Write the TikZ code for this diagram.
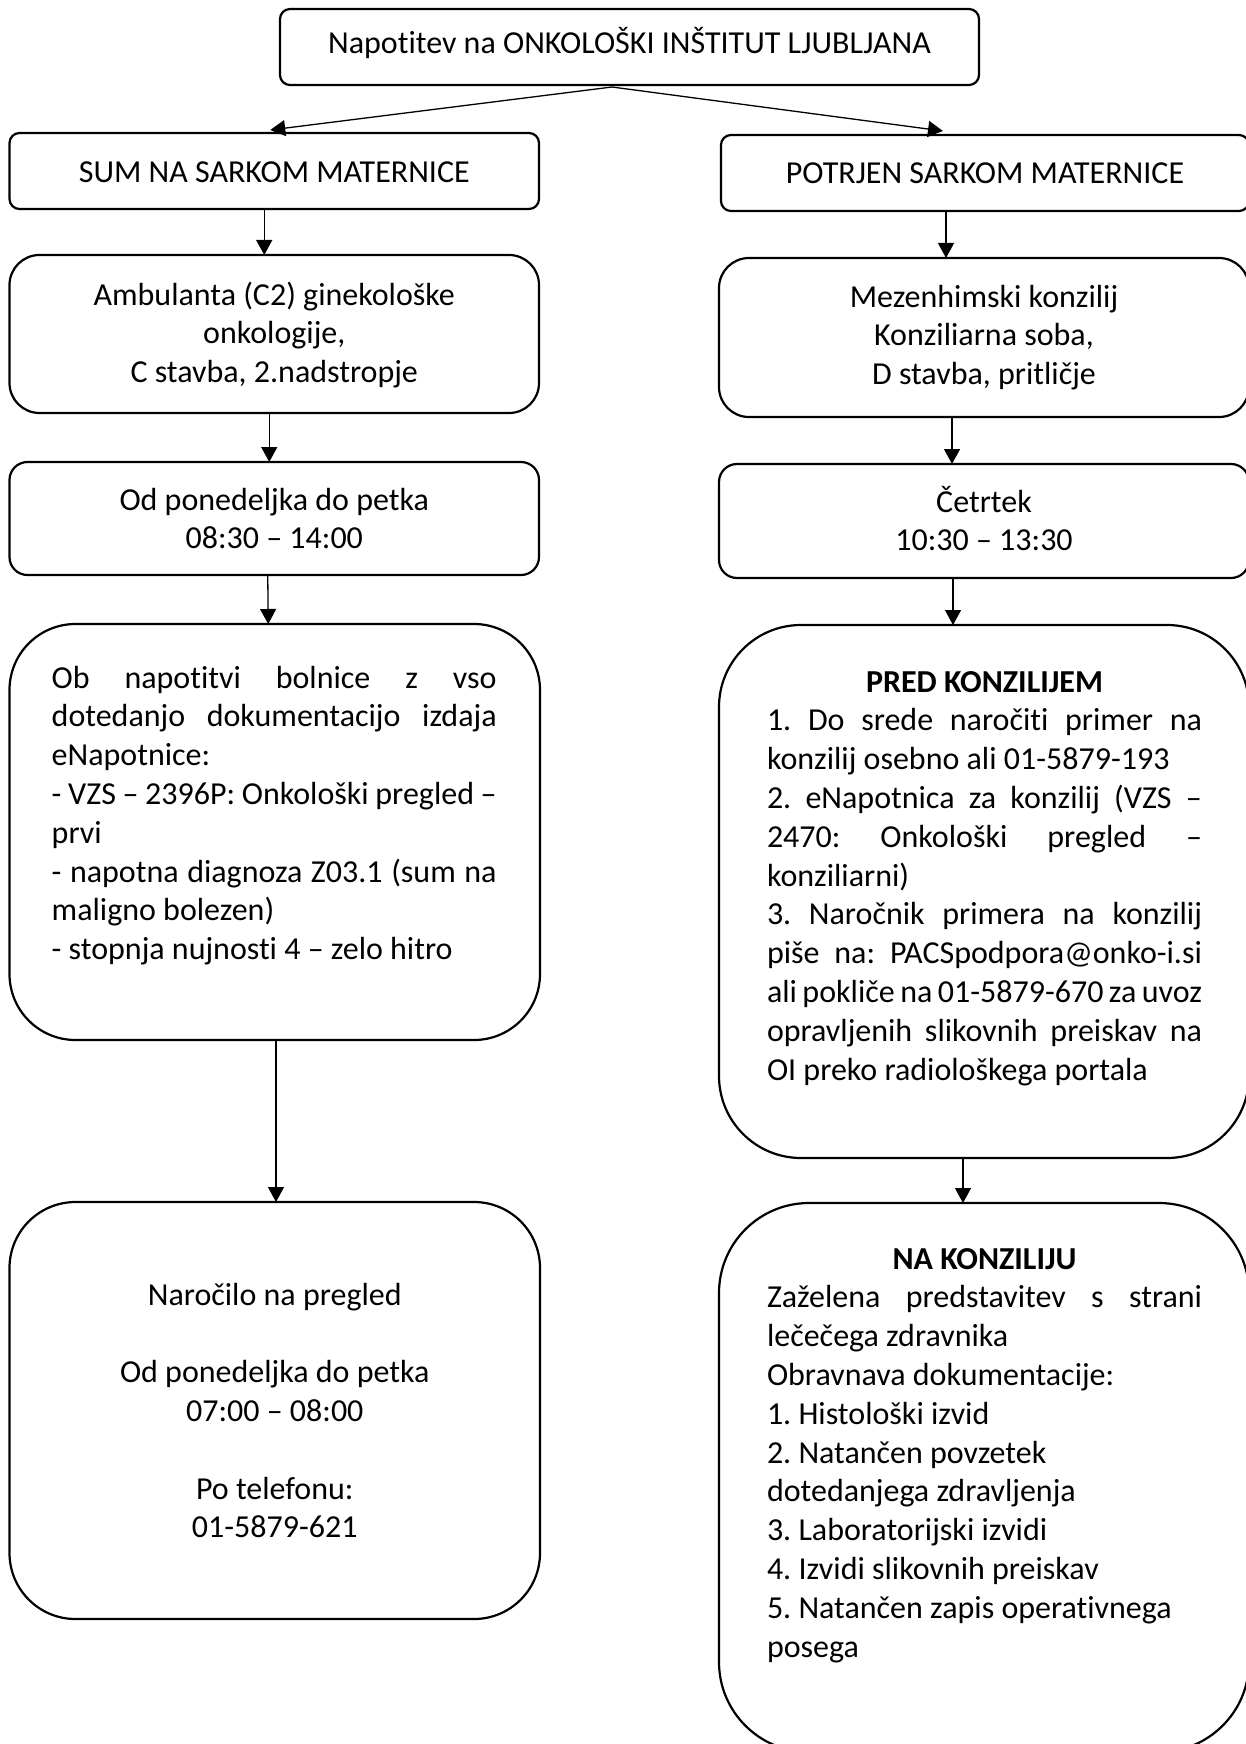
\documentclass[tikz,border=0pt]{standalone}
\usepackage{fontspec}
\setmainfont{Carlito}[Ligatures={NoCommon}]
\usetikzlibrary{arrows.meta}
\newcommand{\jline}[1]{\makebox[\linewidth][s]{\spaceskip=0.12em plus 1fil\relax #1}}
\begin{document}
\frenchspacing
\begin{tikzpicture}[x=1pt,y=-1pt,
  box/.style={draw, line width=2.2pt, inner sep=0pt, outer sep=0pt},
  arr/.style={line width=1.3pt, -{Triangle[length=15pt,width=16pt]}},
  txt/.style={inner sep=0pt, outer sep=0pt, font=\fontsize{32}{38.8}\selectfont\frenchspacing},
]
\useasboundingbox (0,0) rectangle (1246,1744);
\clip (0,0) rectangle (1246,1744);
% boxes
\node[box, rounded corners=10pt, minimum width=699pt, minimum height=76pt] (top) at (629.5,47) {};
\node[box, rounded corners=10pt, minimum width=529.5pt, minimum height=76pt] (sum) at (274.25,171) {};
\node[box, rounded corners=10pt, minimum width=528pt, minimum height=76pt] (pot) at (985,173) {};
\node[box, rounded corners=30pt, minimum width=529.5pt, minimum height=158pt] (amb) at (274.25,334) {};
\node[box, rounded corners=30pt, minimum width=530pt, minimum height=159pt] (mez) at (984,337.5) {};
\node[box, rounded corners=18pt, minimum width=529.5pt, minimum height=113pt] (od) at (274.25,518.5) {};
\node[box, rounded corners=18pt, minimum width=530pt, minimum height=114pt] (cet) at (984,521) {};
\node[box, rounded corners=66pt, minimum width=530.5pt, minimum height=416pt] (ob) at (274.75,832) {};
\node[box, rounded corners=82pt, minimum width=530pt, minimum height=533pt] (pred) at (984,891.5) {};
\node[box, rounded corners=66pt, minimum width=530.5pt, minimum height=417pt] (nar) at (274.75,1410.5) {};
\node[box, rounded corners=90pt, minimum width=530pt, minimum height=549pt] (na) at (984,1477.5) {};
% texts
\node[txt, anchor=base] (topt) at (629.5,54) {Napotitev na ONKOLOŠKI INŠTITUT LJUBLJANA};
\node[txt, anchor=base] (sumt) at (274.25,183) {SUM NA SARKOM MATERNICE};
\node[txt, anchor=base] (pott) at (985,184) {POTRJEN SARKOM MATERNICE};
\node[txt, anchor=base] (ambt) at (274.25,305) {\parbox[t]{520pt}{\centering Ambulanta (C2) ginekološke\\onkologije,\\C stavba, 2.nadstropje}};
\node[txt, anchor=base] (mezt) at (984,307) {\parbox[t]{520pt}{\centering Mezenhimski konzilij\\Konziliarna soba,\\D stavba, pritličje}};
\node[txt, anchor=base] (odt) at (274.25,510) {\parbox[t]{520pt}{\centering Od ponedeljka do petka\\08:30 – 14:00}};
\node[txt, anchor=base] (cett) at (984,512) {\parbox[t]{520pt}{\centering Četrtek\\10:30 – 13:30}};
\node[txt, anchor=base west] (obt) at (51.7,688) {\parbox[t]{445pt}{%
\jline{Ob napotitvi bolnice z vso}\\
\jline{dotedanjo dokumentacijo izdaja}\\
eNapotnice:\\
\jline{- VZS – 2396P: Onkološki pregled –}\\
prvi\\
\jline{- napotna diagnoza Z03.1 (sum na}\\
maligno bolezen)\\
- stopnja nujnosti 4 – zelo hitro}};
\node[txt, anchor=base west] (predt) at (767,692) {\parbox[t]{435pt}{%
{\centering\bfseries PRED KONZILIJEM\par}
\jline{1. Do srede naročiti primer na}\\
konzilij osebno ali 01-5879-193\\
\jline{2. eNapotnica za konzilij (VZS –}\\
\jline{2470: Onkološki pregled –}\\
konziliarni)\\
\jline{3. Naročnik primera na konzilij}\\
\jline{piše na: PACSpodpora@onko-i.si}\\
\jline{ali pokliče na 01-5879-670 za uvoz}\\
\jline{opravljenih slikovnih preiskav na}\\
OI preko radiološkega portala}};
\node[txt, anchor=base] (nart) at (274.75,1305) {\parbox[t]{520pt}{\centering Naročilo na pregled\\[38.8pt]Od ponedeljka do petka\\07:00 – 08:00\\[38.8pt]Po telefonu:\\01-5879-621}};
\node[txt, anchor=base west] (nat) at (767,1269) {\parbox[t]{435pt}{%
{\centering\bfseries NA KONZILIJU\par}
\jline{Zaželena predstavitev s strani}\\
lečečega zdravnika\\
Obravnava dokumentacije:\\
1. Histološki izvid\\
2. Natančen povzetek\\
dotedanjega zdravljenja\\
3. Laboratorijski izvidi\\
4. Izvidi slikovnih preiskav\\
5. Natančen zapis operativnega\\
posega}};
% connectors
\draw[arr] ([xshift=-17.5pt,yshift=-2pt]top.south) -- ([xshift=-4pt,yshift=3pt]sum.north);
\draw[arr] ([xshift=-17.5pt,yshift=-2pt]top.south) -- ([xshift=-42pt,yshift=4pt]pot.north);
\draw[arr] ([xshift=-10pt]sum.south) -- ([xshift=-10pt]amb.north);
\draw[arr] ([xshift=-39pt]pot.south) -- ([xshift=-38pt]mez.north);
\draw[arr] ([xshift=-5pt]amb.south) -- ([xshift=-5pt]od.north);
\draw[arr] ([xshift=-32pt]mez.south) -- ([xshift=-32pt]cet.north);
\draw[arr] ([xshift=-6.5pt]od.south) -- ([xshift=-6.5pt]ob.north);
\draw[arr] ([xshift=-31pt]cet.south) -- ([xshift=-31pt]pred.north);
\draw[arr] ([xshift=1.25pt]ob.south) -- ([xshift=1.25pt]nar.north);
\draw[arr] ([xshift=-21pt]pred.south) -- ([xshift=-21pt]na.north);
\end{tikzpicture}
\end{document}
